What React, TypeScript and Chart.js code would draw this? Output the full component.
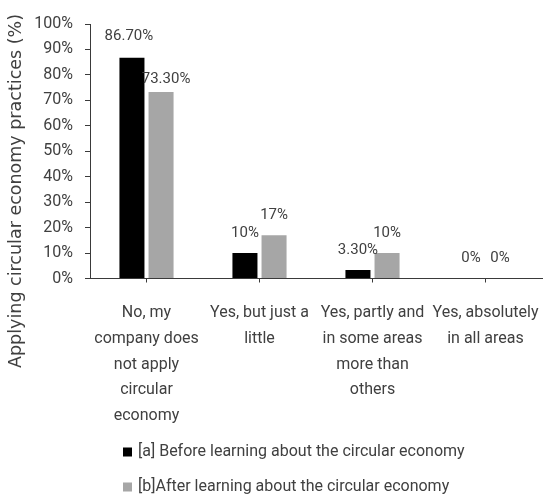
import React, { useEffect, useRef } from "react";
import { Chart, registerables } from "chart.js";

Chart.register(...registerables);

const categories: string[][] = [
  ["No, my", "company does", "not apply", "circular", "economy"],
  ["Yes, but just a", "little"],
  ["Yes, partly and", "in some areas", "more than", "others"],
  ["Yes, absolutely", "in all areas"],
];
const seriesNames = [
  "[a] Before learning about the circular economy",
  "[b]After learning about the circular economy",
];
const beforeValues = [86.7, 10, 3.3, 0];
const afterValues = [73.3, 17, 10, 0];
const beforeLabels = ["86.70%", "10%", "3.30%", "0%"];
const afterLabels = ["73.30%", "17%", "10%", "0%"];
const yMin = 0;
const yMax = 100;
const yStep = 10;
const yTitle = "Applying circular economy practices (%)";

const TEXT = "#404040";
const AXIS = "#3a3a3a";
const FONT = "Roboto";
// label placement nudges (style only): key "dataset-index" -> [dx, dy]
const LABEL_NUDGE: Record<string, [number, number]> = {
  "0-0": [-3, -2],
  "1-0": [5, 7],
};

const valueLabelPlugin = {
  id: "valueLabels",
  afterDatasetsDraw(chart: any) {
    const ctx = chart.ctx;
    ctx.save();
    ctx.font = `15px ${FONT}`;
    ctx.fillStyle = TEXT;
    ctx.textAlign = "center";
    ctx.textBaseline = "middle";
    chart.data.datasets.forEach((ds: any, i: number) => {
      const meta = chart.getDatasetMeta(i);
      meta.data.forEach((el: any, j: number) => {
        const { x, y } = el.getProps(["x", "y"], true);
        const [dx, dy] = LABEL_NUDGE[`${i}-${j}`] || [0, 0];
        ctx.fillText(ds.valueLabels[j], x + dx, y - 20 + dy);
      });
    });
    ctx.restore();
  },
};

const yTitlePlugin = {
  id: "yTitle",
  afterDraw(chart: any) {
    const ctx = chart.ctx;
    ctx.save();
    ctx.translate(16, 191);
    ctx.rotate(-Math.PI / 2);
    ctx.font = `17.5px "DejaVu Sans"`;
    ctx.fillStyle = TEXT;
    ctx.textAlign = "center";
    ctx.textBaseline = "middle";
    ctx.fillText(yTitle, 0, 0);
    ctx.restore();
  },
};

const legendPlugin = {
  id: "customLegend",
  afterDraw(chart: any) {
    const ctx = chart.ctx;
    ctx.save();
    ctx.font = `16px ${FONT}`;
    ctx.textAlign = "left";
    ctx.textBaseline = "middle";
    chart.data.datasets.forEach((ds: any, i: number) => {
      const y = 452 + i * 35;
      ctx.fillStyle = ds.backgroundColor;
      ctx.fillRect(123, y - 4.5, 9, 9);
      ctx.fillStyle = TEXT;
      ctx.fillText(ds.label, 138, y);
    });
    ctx.restore();
  },
};

export default function App() {
  const canvasRef = useRef<HTMLCanvasElement | null>(null);

  useEffect(() => {
    if (!canvasRef.current) return;
    const chart = new Chart(canvasRef.current, {
      type: "bar",
      data: {
        labels: categories,
        datasets: [
          {
            label: seriesNames[0],
            data: beforeValues,
            backgroundColor: "#000000",
            categoryPercentage: 0.515,
            barPercentage: 0.86,
            valueLabels: beforeLabels,
          } as any,
          {
            label: seriesNames[1],
            data: afterValues,
            backgroundColor: "#a6a6a6",
            categoryPercentage: 0.515,
            barPercentage: 0.86,
            valueLabels: afterLabels,
          } as any,
        ],
      },
      options: {
        animation: false,
        responsive: false,
        maintainAspectRatio: false,
        layout: { padding: { top: 24, right: 2, left: 0, bottom: 0 } },
        plugins: {
          legend: { display: false },
          tooltip: { enabled: false },
          title: { display: false },
        },
        scales: {
          x: {
            offset: true,
            grid: {
              offset: false,
              drawOnChartArea: false,
              drawTicks: true,
              tickLength: 4,
              color: AXIS,
            },
            border: { display: true, color: AXIS, width: 1 },
            ticks: {
              autoSkip: false,
              maxRotation: 0,
              minRotation: 0,
              padding: 18,
              color: TEXT,
              font: { family: FONT, size: 16, lineHeight: 1.6 },
            },
            afterFit(scale: any) {
              scale.height = 497 - 278.5;
              scale.paddingLeft = 0;
              scale.paddingRight = 0;
            },
          },
          y: {
            min: yMin,
            max: yMax,
            ticks: {
              stepSize: yStep,
              padding: 12,
              color: TEXT,
              font: { family: FONT, size: 16 },
              callback: (v: any) => `${v}%`,
            },
            grid: {
              drawOnChartArea: false,
              drawTicks: true,
              tickLength: 5,
              color: AXIS,
            },
            border: { display: true, color: AXIS, width: 1 },
            afterFit(scale: any) {
              scale.width = 90;
            },
          },
        },
      },
      plugins: [valueLabelPlugin, yTitlePlugin, legendPlugin],
    });
    return () => chart.destroy();
  }, []);

  return (
    <div
      style={{
        position: "absolute",
        left: 0,
        top: 0,
        width: 544,
        height: 497,
        background: "#ffffff",
      }}
    >
      <canvas ref={canvasRef} width={544} height={497} style={{ display: "block" }} />
    </div>
  );
}
